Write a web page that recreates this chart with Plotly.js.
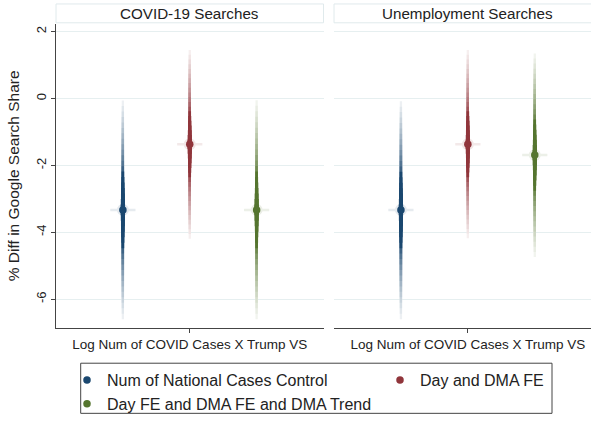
<!DOCTYPE html>
<html>
<head>
<meta charset="utf-8">
<script src="https://cdn.plot.ly/plotly-3.0.1.min.js"></script>
<style>html,body{margin:0;padding:0;background:#fff;overflow:hidden}#chart{width:591px;height:421px}</style>
</head>
<body>
<div id="chart"></div>
<script>
// ---- data ----
const models = ['Num of National Cases Control', 'Day and DMA FE', 'Day FE and DMA FE and DMA Trend'];
const panelTitles = ['COVID-19 Searches', 'Unemployment Searches'];
const xLabel = 'Log Num of COVID Cases X Trump VS';
const xPos = [-1, 0, 1];
const covidCoef = [-3.33, -1.37, -3.33];
const covidLo   = [-6.60, -4.19, -6.60];
const covidHi   = [-0.06,  1.45, -0.05];
const unempCoef = [-3.33, -1.37, -1.69];
const unempLo   = [-6.60, -4.18, -4.74];
const unempHi   = [-0.08,  1.45,  1.35];
const yTickVals = [-6, -4, -2, 0, 2];
const yTickText = ['-6', '-4', '-2', '0', '2'];
const yTitle = '% Diff in Google Search Share';

// ---- style ----
const colors = ['#1a476f', '#90353b', '#55752f'];
const W = 591, H = 421;
const px = v => v / W;
const py = v => 1 - v / H;
const FONT = 'Liberation Sans, Arial, Helvetica, sans-serif';

function hexToRgb(h) { return [1, 3, 5].map(i => parseInt(h.substr(i, 2), 16)); }
function mix(hex, t) {
  const c = hexToRgb(hex);
  return 'rgb(' + c.map(v => Math.round(255 + (v - 255) * t)).join(',') + ')';
}
function opac(f) { return f <= 0.35 ? 1 : 1 - 0.92 * Math.pow((f - 0.35) / 0.65, 0.7); }
function thick(f) { return 2.3 + 2.4 * Math.max(0, 1 - f / 0.4); }

const panels = [
  { coef: covidCoef, lo: covidLo, hi: covidHi, xa: 'x', ya: 'y' },
  { coef: unempCoef, lo: unempLo, hi: unempHi, xa: 'x2', ya: 'y2' }
];

const traces = [];
const N = 20;
panels.forEach((p) => {
  // soft halo round the point estimate
  traces.push({
    x: xPos, y: p.coef, xaxis: p.xa, yaxis: p.ya, mode: 'markers', showlegend: false, hoverinfo: 'skip',
    marker: { symbol: 'circle', size: 12, color: colors.map(c => mix(c, 0.12)), line: { width: 0 } }
  });
  traces.push({
    x: xPos, y: p.coef, xaxis: p.xa, yaxis: p.ya, mode: 'markers', showlegend: false, hoverinfo: 'skip',
    marker: { symbol: 'line-ew', size: 18, color: colors.map(c => mix(c, 0.11)), line: { width: 2.5, color: colors.map(c => mix(c, 0.11)) } }
  });
  // graded CI layers
  for (let s = 0; s < models.length; s++) {
    for (let k = N; k >= 1; k--) {
      const f = k / N;
      traces.push({
        x: [xPos[s]], y: [p.coef[s]], xaxis: p.xa, yaxis: p.ya, mode: 'markers', showlegend: false, hoverinfo: 'skip',
        marker: { size: 1, color: 'rgba(0,0,0,0)' },
        error_y: { type: 'data', symmetric: false, array: [(p.hi[s] - p.coef[s]) * f], arrayminus: [(p.coef[s] - p.lo[s]) * f],
                   color: mix(colors[s], opac(f)), thickness: thick(f), width: 0 }
      });
    }
  }
});
// point estimates (legend entries)
panels.forEach((p, pi) => {
  for (let s = 0; s < models.length; s++) {
    traces.push({
      x: [xPos[s]], y: [p.coef[s]], xaxis: p.xa, yaxis: p.ya, mode: 'markers', name: models[s],
      showlegend: pi === 0, legend: s === 1 ? 'legend2' : 'legend',
      marker: { symbol: 'circle', size: 7.5, color: colors[s] }
    });
  }
});

const axisBase = { showgrid: false, zeroline: false, fixedrange: true, ticks: 'outside', ticklen: 4, tickcolor: '#444',
                   showline: true, linecolor: '#444', linewidth: 1, tickfont: { size: 13.5, color: '#222' } };
const yBase = { domain: [py(331), py(24)], range: [-6.859, 2.237], tickvals: yTickVals, ticktext: yTickText,
                zeroline: false, fixedrange: true, showgrid: true, gridcolor: '#e6eff0', gridwidth: 1 };

const layout = {
  width: W, height: H, margin: { l: 0, r: 0, t: 0, b: 0 },
  paper_bgcolor: '#fff', plot_bgcolor: '#fff',
  font: { family: FONT, color: '#222', size: 13 },
  xaxis: Object.assign({}, axisBase, { domain: [px(56), px(323.5)], range: [-2, 2], tickvals: [0], ticktext: [xLabel], anchor: 'y' }),
  xaxis2: Object.assign({}, axisBase, { domain: [px(334), 1], range: [-2, 1.84], tickvals: [0], ticktext: [xLabel], anchor: 'y2' }),
  yaxis: Object.assign({}, yBase, { anchor: 'x', tickangle: -90, ticks: 'outside', ticklen: 4, tickcolor: '#444',
                   showline: true, linecolor: '#444', linewidth: 1, tickfont: { size: 13, color: '#222' },
                   title: { text: yTitle, font: { size: 15.5, color: '#222' }, standoff: 10 } }),
  yaxis2: Object.assign({}, yBase, { anchor: 'x2', showticklabels: false, ticks: '', showline: false }),
  legend: { x: px(67), y: py(366.7), xanchor: 'left', yanchor: 'top', orientation: 'v', bgcolor: 'rgba(0,0,0,0)',
            borderwidth: 0, font: { size: 16, color: '#222' } },
  legend2: { x: px(380), y: py(366.7), xanchor: 'left', yanchor: 'top', orientation: 'v', bgcolor: 'rgba(0,0,0,0)',
             borderwidth: 0, font: { size: 16, color: '#222' } },
  shapes: [
    { type: 'rect', xref: 'paper', yref: 'paper', x0: px(56), x1: px(323.5), y0: py(23), y1: py(4),
      line: { color: '#e0eaec', width: 1 }, fillcolor: '#fff', layer: 'below' },
    { type: 'rect', xref: 'paper', yref: 'paper', x0: px(334), x1: px(605), y0: py(23), y1: py(4),
      line: { color: '#e0eaec', width: 1 }, fillcolor: '#fff', layer: 'below' },
    { type: 'rect', xref: 'paper', yref: 'paper', x0: px(80.7), x1: px(552), y0: py(417.3), y1: py(366.7),
      line: { color: '#444', width: 1 }, fillcolor: 'rgba(0,0,0,0)' }
  ],
  annotations: [
    { text: panelTitles[0], xref: 'paper', yref: 'paper', x: px(189.7), y: py(13.5), showarrow: false,
      xanchor: 'center', yanchor: 'middle', font: { size: 15.2, color: '#222' } },
    { text: panelTitles[1], xref: 'paper', yref: 'paper', x: px(467.5), y: py(13.5), showarrow: false,
      xanchor: 'center', yanchor: 'middle', font: { size: 15.2, color: '#222' } }
  ]
};

Plotly.newPlot('chart', traces, layout, { displayModeBar: false, staticPlot: true });
</script>
</body>
</html>
